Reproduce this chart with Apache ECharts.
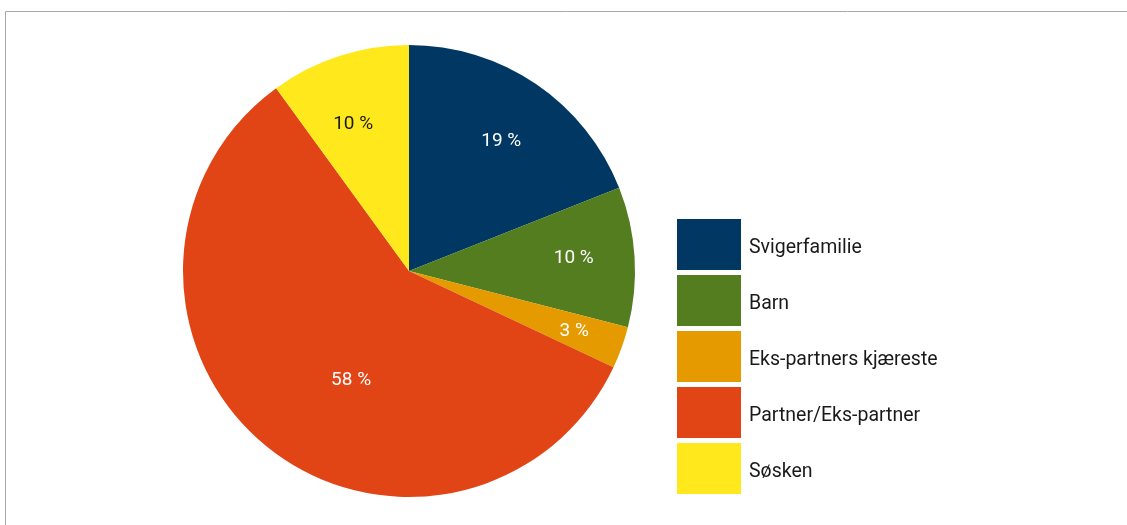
<!DOCTYPE html>
<html>
<head>
<meta charset="utf-8">
<script src="https://cdn.jsdelivr.net/npm/echarts@6/dist/echarts.min.js"></script>
<style>
html,body{margin:0;padding:0;background:#fff;}
#chart{width:1127px;height:525px;}
</style>
</head>
<body>
<div id="chart"></div>
<script>
const categories = ['Svigerfamilie', 'Barn', 'Eks-partners kjæreste', 'Partner/Eks-partner', 'Søsken'];
const values = [19, 10, 3, 58, 10];

const colors = ['#003763', '#537d1e', '#e59b00', '#e14515', '#ffe81c'];
const labelColors = ['#ffffff', '#ffffff', '#ffffff', '#ffffff', '#1a1a1a'];
// label offsets from the default inside position (style only)
const labelShift = [[27, -34], [49, -5], [56, 21], [16, 20], [-20, -36]];

const chart = echarts.init(document.getElementById('chart'), null, {renderer: 'canvas'});
chart.setOption({
  animation: false,
  color: colors,
  graphic: [{
    type: 'rect',
    shape: {x: 5.5, y: 11.5, width: 1200, height: 600},
    style: {fill: null, stroke: '#a8a8a8', lineWidth: 1},
    silent: true,
    z: -1
  }],
  legend: {
    orient: 'vertical',
    left: 677,
    top: 219,
    padding: 0,
    itemWidth: 64,
    itemHeight: 51,
    itemGap: 5,
    icon: 'rect',
    selectedMode: false,
    formatter: '{t|{name}}',
    textStyle: {
      fontFamily: 'Roboto', fontSize: 19.5, color: '#1a1a1a',
      rich: {t: {fontFamily: 'Roboto', fontSize: 19.5, color: '#1a1a1a', padding: [8, 0, 0, 3]}}
    },
    data: categories
  },
  series: [{
    type: 'pie',
    center: [409, 271],
    radius: [0, 226],
    startAngle: 90,
    clockwise: true,
    emphasis: {disabled: true},
    label: {
      position: 'inside',
      formatter: '{c} %',
      fontFamily: 'Roboto',
      fontSize: 19
    },
    labelLayout: function (p) {
      const s = labelShift[p.dataIndex];
      return {dx: s[0], dy: s[1]};
    },
    labelLine: {show: false},
    data: categories.map((c, i) => ({
      name: c,
      value: values[i],
      label: {color: labelColors[i]}
    }))
  }]
});
</script>
</body>
</html>
